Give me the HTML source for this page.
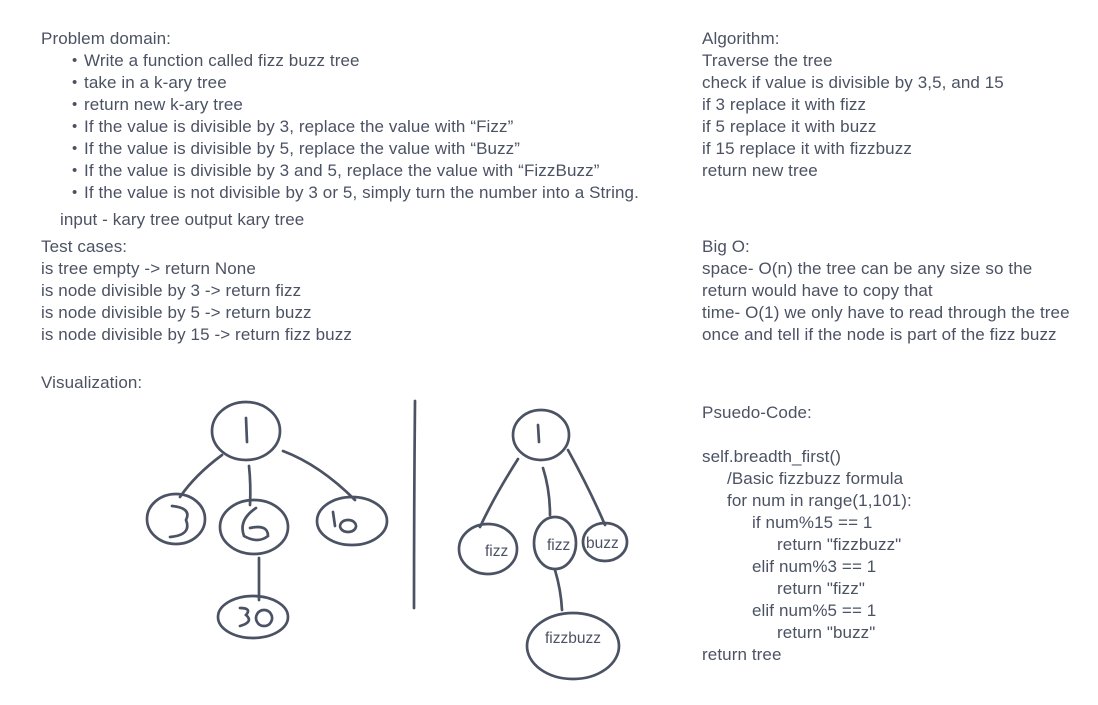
<!DOCTYPE html>
<html><head><meta charset="utf-8"><style>
html,body{margin:0;padding:0;background:#fff;width:1098px;height:705px;overflow:hidden;position:relative}
.t{position:absolute;font-family:"Liberation Sans",sans-serif;font-size:17px;letter-spacing:0.1px;color:#4b5263;white-space:nowrap;line-height:22px;margin-top:1px}
.b::before{content:"•";position:absolute;left:-12px;font-size:15px}
svg{position:absolute;left:0;top:0}
</style></head><body>
<div class="t" style="left:41px;top:27px">Problem domain:</div>
<div class="t b" style="left:84px;top:49px">Write a function called fizz buzz tree</div>
<div class="t b" style="left:84px;top:71px">take in a k-ary tree</div>
<div class="t b" style="left:84px;top:93px">return new k-ary tree</div>
<div class="t b" style="left:84px;top:115px">If the value is divisible by 3, replace the value with “Fizz”</div>
<div class="t b" style="left:84px;top:137px">If the value is divisible by 5, replace the value with “Buzz”</div>
<div class="t b" style="left:84px;top:159px">If the value is divisible by 3 and 5, replace the value with “FizzBuzz”</div>
<div class="t b" style="left:84px;top:181px">If the value is not divisible by 3 or 5, simply turn the number into a String.</div>
<div class="t" style="left:60px;top:208px">input - kary tree output kary tree</div>
<div class="t" style="left:41px;top:235px">Test cases:</div>
<div class="t" style="left:41px;top:257px">is tree empty -&gt; return None</div>
<div class="t" style="left:41px;top:279px">is node divisible by 3 -&gt; return fizz</div>
<div class="t" style="left:41px;top:301px">is node divisible by 5 -&gt; return buzz</div>
<div class="t" style="left:41px;top:323px">is node divisible by 15 -&gt; return fizz buzz</div>
<div class="t" style="left:41px;top:371px">Visualization:</div>

<div class="t" style="left:702px;top:27px">Algorithm:</div>
<div class="t" style="left:702px;top:49px">Traverse the tree</div>
<div class="t" style="left:702px;top:71px">check if value is divisible by 3,5, and 15</div>
<div class="t" style="left:702px;top:93px">if 3 replace it with fizz</div>
<div class="t" style="left:702px;top:115px">if 5 replace it with buzz</div>
<div class="t" style="left:702px;top:137px">if 15 replace it with fizzbuzz</div>
<div class="t" style="left:702px;top:159px">return new tree</div>
<div class="t" style="left:702px;top:235px">Big O:</div>
<div class="t" style="left:702px;top:257px">space- O(n) the tree can be any size so the</div>
<div class="t" style="left:702px;top:279px">return would have to copy that</div>
<div class="t" style="left:702px;top:301px">time- O(1) we only have to read through the tree</div>
<div class="t" style="left:702px;top:323px">once and tell if the node is part of the fizz buzz</div>
<div class="t" style="left:702px;top:401px">Psuedo-Code:</div>
<div class="t" style="left:702px;top:445px">self.breadth_first()</div>
<div class="t" style="left:727px;top:467px">/Basic fizzbuzz formula</div>
<div class="t" style="left:727px;top:489px">for num in range(1,101):</div>
<div class="t" style="left:752px;top:511px">if num%15 == 1</div>
<div class="t" style="left:777px;top:533px">return "fizzbuzz"</div>
<div class="t" style="left:752px;top:555px">elif num%3 == 1</div>
<div class="t" style="left:777px;top:577px">return "fizz"</div>
<div class="t" style="left:752px;top:599px">elif num%5 == 1</div>
<div class="t" style="left:777px;top:621px">return "buzz"</div>
<div class="t" style="left:702px;top:643px">return tree</div>

<svg width="1098" height="705" viewBox="0 0 1098 705">
<g fill="none" stroke="#4b5263" stroke-width="2.7" stroke-linecap="round">
<ellipse cx="246" cy="431" rx="34" ry="29"/>
<ellipse cx="176" cy="519" rx="29" ry="25"/>
<ellipse cx="254" cy="527" rx="34" ry="27"/>
<ellipse cx="352" cy="521" rx="35" ry="24"/>
<ellipse cx="253" cy="617" rx="35" ry="21"/>
<path d="M222 455 Q195 475 180 497"/>
<path d="M249 466 Q251 485 250 505"/>
<path d="M283 451 Q320 465 355 500"/>
<path d="M259 558 L259 600"/>
<path d="M246 418 L247 442"/>
<path d="M172 506 Q192 508 186 520 Q192 535 170 537"/>
<path d="M256 508 Q238 520 244 536 Q258 544 268 536 Q268 524 250 528"/>
<path d="M333 512 L335 526 M348 520 a8 6 0 1 0 0.1 0"/>
<path d="M240 608 Q252 608 246 615 Q254 622 240 626 M264 610 a8 8 0 1 0 0.1 0"/>
<path d="M415 401 Q414 505 414 608"/>
<ellipse cx="541" cy="435" rx="28" ry="25"/>
<ellipse cx="488" cy="549" rx="29" ry="25"/>
<ellipse cx="555" cy="543" rx="21" ry="26"/>
<ellipse cx="605" cy="542" rx="22" ry="19"/>
<ellipse cx="573" cy="646" rx="46" ry="33"/>
<path d="M538 425 L539 442"/>
<path d="M518 459 Q495 495 480 527"/>
<path d="M543 468 Q550 490 550 515"/>
<path d="M568 450 Q590 490 605 525"/>
<path d="M555 570 Q561 590 562 610"/>
</g>
<g font-family="Liberation Sans,sans-serif" font-size="15.5" fill="#4b5263">
<text x="485" y="556">fizz</text>
<text x="547" y="550">fizz</text>
<text x="586" y="548">buzz</text>
<text x="545" y="643">fizzbuzz</text>
</g>
</svg>
</body></html>
